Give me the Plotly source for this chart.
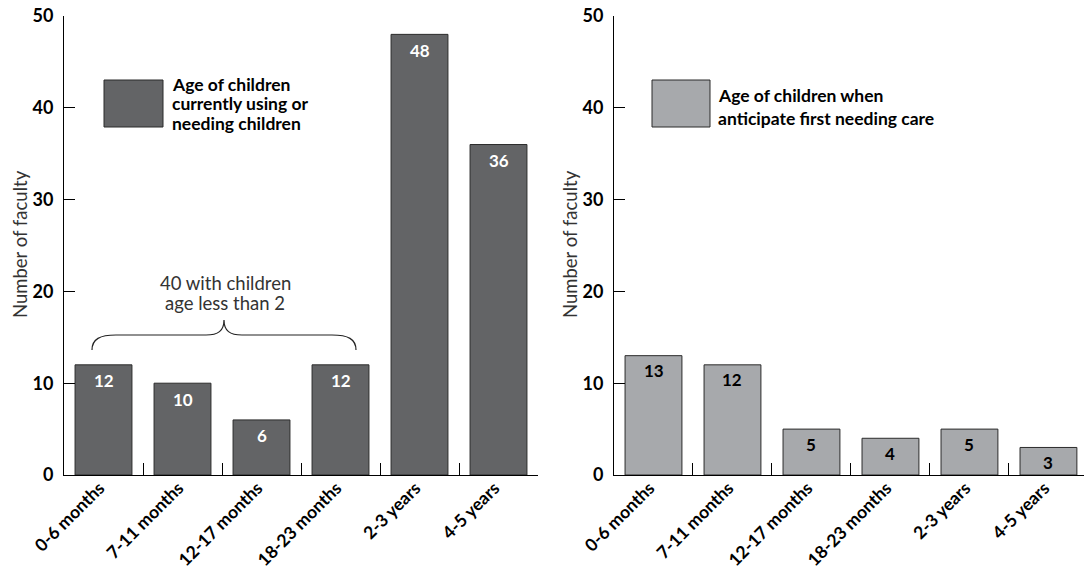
import plotly.graph_objects as go

categories = ["0-6 months", "7-11 months", "12-17 months", "18-23 months", "2-3 years", "4-5 years"]
current_values = [12, 10, 6, 12, 48, 36]
anticipate_values = [13, 12, 5, 4, 5, 3]
y_ticks = [0, 10, 20, 30, 40, 50]
legend_left = ["Age of children", "currently using or", "needing children"]
legend_right = ["Age of children when", "anticipate first needing care"]
brace_lines = ["40 with children", "age less than 2"]
y_title = "Number of faculty"

W, H = 1084, 571
FONT = "Lato"
DARK = "#636466"
LIGHT = "#a7a9ac"
EDGE = "#2b2b2b"


def px(x):
    return x / W


def py(y):
    return 1 - y / H


fig = go.Figure()
fig.add_trace(go.Bar(x=categories, y=current_values, marker=dict(color=DARK, line=dict(color=EDGE, width=1)),
                     xaxis="x", yaxis="y", showlegend=False, hoverinfo="x+y"))
fig.add_trace(go.Bar(x=categories, y=anticipate_values, marker=dict(color=LIGHT, line=dict(color=EDGE, width=1)),
                     xaxis="x2", yaxis="y2", showlegend=False, hoverinfo="x+y"))

ydom = [py(475), py(16)]
common_x = dict(type="category", showline=True, linecolor="black", linewidth=1, ticks="inside",
                tickson="boundaries", ticklen=12, tickcolor="black", tickwidth=1, tickangle=-45,
                tickfont=dict(family=FONT, size=17.5, color="black", weight="bold"), showgrid=False,
                zeroline=False, automargin=False, ticklabelstandoff=-5, ticklabelshift=-4,
                ticklabeloverflow="allow")
common_y = dict(range=[0, 50], tickvals=y_ticks, showline=True, linecolor="black", linewidth=1, ticks="inside",
                ticklen=11, tickcolor="black", tickwidth=1, tickfont=dict(family=FONT, size=18, color="black", weight="bold"),
                showgrid=False, zeroline=False, automargin=False, domain=ydom, ticklabelstandoff=6,
                ticklabeloverflow="allow")

fig.update_layout(
    width=W, height=H, margin=dict(l=0, r=0, t=0, b=0),
    paper_bgcolor="white", plot_bgcolor="white", bargap=0.28,
    xaxis=dict(domain=[px(64), px(538)], range=[-0.5, 5.5], anchor="y", **common_x),
    yaxis=dict(anchor="x", **common_y),
    xaxis2=dict(domain=[px(614), 1.0], range=[-0.5, 5.45], anchor="y2", **common_x),
    yaxis2=dict(anchor="x2", **common_y),
)

annotations = []
# bar value labels
for cat, v in zip(categories, current_values):
    annotations.append(dict(x=cat, y=v, xref="x", yref="y", text=str(v), showarrow=False, yshift=-16,
                            yanchor="middle", font=dict(family=FONT, size=17, color="white", weight="bold")))
for cat, v in zip(categories, anticipate_values):
    annotations.append(dict(x=cat, y=v, xref="x2", yref="y2", text=str(v), showarrow=False, yshift=-15,
                            yanchor="middle", font=dict(family=FONT, size=17, color="black", weight="bold")))

# y axis titles
for xc in (20, 570):
    annotations.append(dict(x=px(xc), y=py(244), xref="paper", yref="paper", text=y_title, showarrow=False,
                            textangle=-90, xanchor="center", yanchor="middle",
                            font=dict(family=FONT, size=18.5, color="#333333")))

# legends
for line, yc in zip(legend_left, [84, 103.5, 123]):
    annotations.append(dict(x=px(170), y=py(yc), xref="paper", yref="paper", text=line, showarrow=False,
                            xanchor="left", yanchor="middle",
                            font=dict(family=FONT, size=17.5, color="black", weight="bold")))
for line, yc in zip(legend_right, [95, 118.5]):
    annotations.append(dict(x=px(716), y=py(yc), xref="paper", yref="paper", text=line, showarrow=False,
                            xanchor="left", yanchor="middle",
                            font=dict(family=FONT, size=17.5, color="black", weight="bold")))

# brace label
for line, yc in zip(brace_lines, [283, 303]):
    annotations.append(dict(x=px(225), y=py(yc), xref="paper", yref="paper", text=line, showarrow=False,
                            xanchor="center", yanchor="middle", font=dict(family=FONT, size=18.5, color="#333333")))
fig.update_layout(annotations=annotations)

shapes = [
    dict(type="rect", xref="paper", yref="paper", x0=px(104), x1=px(163), y0=py(127), y1=py(80),
         fillcolor=DARK, line=dict(color=EDGE, width=1)),
    dict(type="rect", xref="paper", yref="paper", x0=px(652), x1=px(710), y0=py(127), y1=py(80),
         fillcolor=LIGHT, line=dict(color=EDGE, width=1)),
]


def P(x, y):
    return f"{px(x):.5f},{py(y):.5f}"


brace = ("M " + P(92, 350) + " C " + P(92, 339) + " " + P(100, 335) + " " + P(116, 335)
         + " L " + P(206, 335) + " C " + P(218, 335) + " " + P(224, 331) + " " + P(224, 320)
         + " C " + P(224, 331) + " " + P(230, 335) + " " + P(242, 335)
         + " L " + P(332, 335) + " C " + P(348, 335) + " " + P(356, 339) + " " + P(356, 350))
shapes.append(dict(type="path", xref="paper", yref="paper", path=brace, line=dict(color="#222222", width=1.2)))
fig.update_layout(shapes=shapes)

fig.write_html("out.html", config={"displayModeBar": False},
               post_script="document.body.style.margin='0';")
